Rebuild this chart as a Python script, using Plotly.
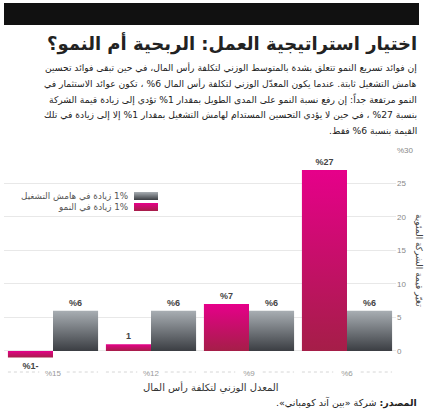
import plotly.graph_objects as go

# data
categories = ["%15", "%12", "%9", "%6"]
growth = [-1, 1, 7, 27]
margin_gain = [6, 6, 6, 6]
growth_labels = ["%1-", "1", "%7", "%27"]
margin_labels = ["%6", "%6", "%6", "%6"]
y_ticks = [0, 5, 10, 15, 20, 25, 30]
y_ticktext = ["0", "5", "10", "15", "20", "25", "%30"]

title = "اختيار استراتيجية العمل: الربحية أم النمو؟"
subtitle_lines = [
    "إن فوائد تسريع النمو تتعلق بشدة بالمتوسط الوزني لتكلفة رأس المال، في حين تبقى فوائد تحسين",
    "هامش التشغيل ثابتة. عندما يكون المعدّل الوزني لتكلفة رأس المال 6% ، تكون عوائد الاستثمار في",
    "النمو مرتفعة جداً: إن رفع نسبة النمو على المدى الطويل بمقدار 1% تؤدي إلى زيادة قيمة الشركة",
    "بنسبة 27% ، في حين لا يؤدي التحسين المستدام لهامش التشغيل بمقدار 1% إلا إلى زيادة في تلك",
    "القيمة بنسبة 6% فقط.",
]
margin_name = "1% زيادة في هامش التشغيل"
growth_name = "1% زيادة في النمو"
x_title = "المعدل الوزني لتكلفة رأس المال"
y_title = "تغيّر قيمة الشركة المئوية"
source_label = "المصدر:"
source_text = "شركة «بين آند كومباني»."

PINK = "#c8106a"
GREY = "#74787d"
AR_FONT = "DejaVu Sans"

W, H = 432, 412
L, R, T, B = 4, 36, 150, 45


def fx(px):
    return (px - L) / (W - L - R)


def fy(py):
    return (H - B - py) / (H - T - B)


def rtl(s):
    # right-to-left embedding so the svg text is laid out like the print
    return "\u202b" + s + "\u202c"


fig = go.Figure()
fig.add_trace(go.Bar(x=categories, y=growth, name=growth_name,
                     marker=dict(color=PINK, line=dict(width=0)),
                     text=growth_labels, textposition="outside",
                     textfont=dict(family="Liberation Sans", size=9, color="#444", weight="bold"),
                     cliponaxis=False, showlegend=False))
fig.add_trace(go.Bar(x=categories, y=margin_gain, name=margin_name,
                     marker=dict(color=GREY, line=dict(width=0)),
                     text=margin_labels, textposition="outside",
                     textfont=dict(family="Liberation Sans", size=9, color="#444", weight="bold"),
                     cliponaxis=False, showlegend=False))

shapes = [
    # black band at the top
    dict(type="rect", xref="paper", yref="paper", x0=fx(4), x1=fx(419), y0=fy(25), y1=fy(3),
         fillcolor="#111", line=dict(width=0)),
    # legend swatches
    dict(type="rect", xref="paper", yref="paper", x0=fx(134), x1=fx(158), y0=fy(200), y1=fy(192),
         fillcolor=GREY, line=dict(width=0)),
    dict(type="rect", xref="paper", yref="paper", x0=fx(134), x1=fx(158), y0=fy(211), y1=fy(203),
         fillcolor=PINK, line=dict(width=0)),
]
# dotted bracket lines under each category
for i in range(len(categories)):
    for a, b in [(-0.46, -0.14), (0.14, 0.46)]:
        shapes.append(dict(type="line", xref="x", yref="paper", x0=i + a, x1=i + b,
                           y0=fy(372), y1=fy(372),
                           line=dict(color="#d6d6d6", width=1, dash="dot")))

annotations = [
    dict(text=rtl(title), xref="paper", yref="paper", x=fx(419), y=fy(44),
         xanchor="right", yanchor="middle", showarrow=False,
         font=dict(family=AR_FONT, size=18, color="#222", weight="bold")),
    dict(text=rtl(margin_name), xref="paper", yref="paper", x=fx(130), y=fy(196),
         xanchor="right", yanchor="middle", showarrow=False,
         font=dict(family=AR_FONT, size=8.8, color="#555")),
    dict(text=rtl(growth_name), xref="paper", yref="paper", x=fx(130), y=fy(207),
         xanchor="right", yanchor="middle", showarrow=False,
         font=dict(family=AR_FONT, size=8.8, color="#555")),
    dict(text=rtl(y_title), xref="paper", yref="paper", x=fx(419), y=fy(260),
         xanchor="center", yanchor="middle", textangle=90, showarrow=False,
         font=dict(family=AR_FONT, size=9, color="#444")),
    dict(text=rtl(x_title), xref="paper", yref="paper", x=fx(211), y=fy(387),
         xanchor="center", yanchor="middle", showarrow=False,
         font=dict(family=AR_FONT, size=10, color="#333")),
    dict(text=rtl("<b>" + source_label + "</b> " + source_text), xref="paper", yref="paper",
         x=fx(419), y=fy(402), xanchor="right", yanchor="middle", showarrow=False,
         font=dict(family=AR_FONT, size=9.5, color="#222")),
]
for i, line in enumerate(subtitle_lines):
    annotations.append(dict(text=rtl(line), xref="paper", yref="paper",
                            x=fx(419), y=fy(68 + i * 15.5), xanchor="right", yanchor="middle",
                            showarrow=False, font=dict(family=AR_FONT, size=9.2, color="#222")))

fig.update_layout(
    width=W, height=H,
    margin=dict(l=L, r=R, t=T, b=B, pad=0),
    paper_bgcolor="white", plot_bgcolor="white",
    barmode="group", bargap=0.08, bargroupgap=0,
    shapes=shapes, annotations=annotations,
    font=dict(family=AR_FONT, color="#333"),
    showlegend=False,
)
fig.update_xaxes(type="category", showgrid=False, zeroline=False, showline=False,
                 ticks="", tickfont=dict(family="Liberation Sans", size=8, color="#999"))
fig.update_yaxes(side="right", range=[-2.4, 30], tickvals=y_ticks, ticktext=y_ticktext,
                 showgrid=True, gridcolor="#e8e8e8", gridwidth=1, zeroline=False,
                 ticks="", tickfont=dict(family="Liberation Sans", size=8, color="#888"))

# no page margin, and vertical gradients on the bars and legend swatches
post_js = """
document.body.style.margin = '0';
var gd = document.getElementById('{plot_id}');
var ns = 'http://www.w3.org/2000/svg';
var svg = gd.querySelector('svg.main-svg');
var defs = svg.querySelector('defs');
function grad(id, top, bottom) {
  var g = document.createElementNS(ns, 'linearGradient');
  g.setAttribute('id', id);
  g.setAttribute('x1', '0'); g.setAttribute('y1', '0');
  g.setAttribute('x2', '0'); g.setAttribute('y2', '1');
  [[0, top], [1, bottom]].forEach(function (s) {
    var st = document.createElementNS(ns, 'stop');
    st.setAttribute('offset', s[0]);
    st.setAttribute('stop-color', s[1]);
    g.appendChild(st);
  });
  defs.appendChild(g);
}
grad('gPink', '#e6008a', '#a51e48');
grad('gGrey', '#a8aeb3', '#3b3e43');
var traces = gd.querySelectorAll('.barlayer .trace');
var fills = ['url(#gPink)', 'url(#gGrey)'];
traces.forEach(function (t, i) {
  t.querySelectorAll('.point path').forEach(function (p) { p.style.fill = fills[i]; });
});
var sw = {1: 'url(#gGrey)', 2: 'url(#gPink)'};
gd.querySelectorAll('.shapelayer path').forEach(function (p) {
  var k = p.getAttribute('data-index');
  if (sw[k]) { p.style.fill = sw[k]; }
});
"""

fig.write_html("out.html", post_script=post_js, config={"displayModeBar": False})
